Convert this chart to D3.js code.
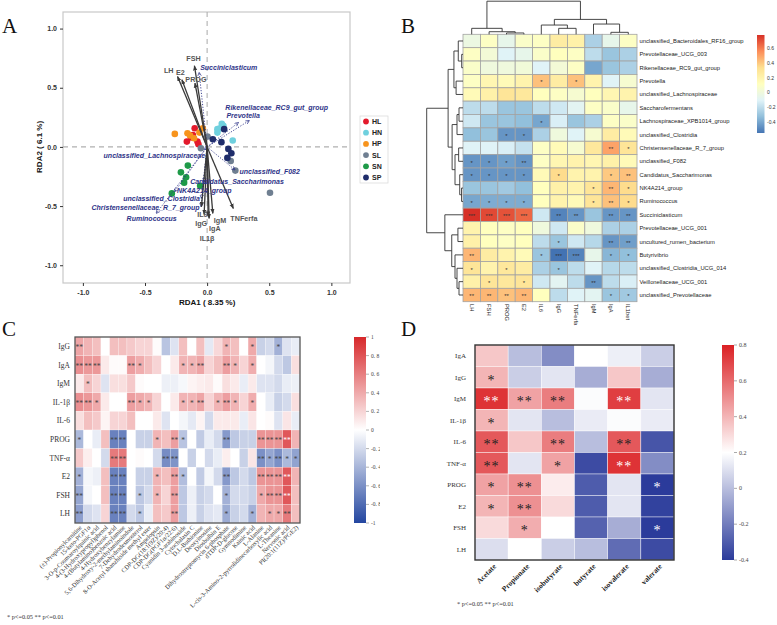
<!DOCTYPE html>
<html>
<head>
<meta charset="utf-8">
<script src="https://cdn.jsdelivr.net/npm/d3@7"></script>
<style>
  body { margin: 0; background: #fff; }
  svg { display: block; }
</style>
</head>
<body>
<div id="chart"></div>
<script>
// ---------------- data: panel A (RDA) ----------------
const groups = ["HL", "HN", "HP", "SL", "SN", "SP"];
const groupColors = ["#e31a2c", "#6fd0de", "#f7941d", "#6f7f91", "#1e9a48", "#1f2d6b"];
const ptsHL = [[-0.10, 0.158], [-0.115, 0.10], [-0.13, 0.08], [-0.163, 0.045], [-0.078, 0.045], [-0.07, 0.023]];
const ptsHN = [[0.118, 0.195], [0.083, 0.15], [0.104, 0.158], [0.131, 0.178], [0.083, 0.121], [0.206, 0.054]];
const ptsHP = [[-0.26, 0.11], [-0.158, 0.115], [-0.137, 0.096], [-0.105, 0.073], [-0.062, 0.121], [-0.035, 0.158]];
const ptsSL = [[0.003, 0.087], [-0.05, -0.011], [0.19, -0.119], [0.227, -0.2], [0.506, -0.387]];
const ptsSN = [[-0.155, -0.158], [-0.211, -0.215], [-0.169, -0.257], [-0.185, -0.302], [-0.056, -0.328], [-0.284, -0.393]];
const ptsSP = [[0.137, 0.15], [0.046, 0.065], [0.115, 0.04], [0.171, -0.017], [0.195, -0.054], [0.163, -0.093]];
const groupPoints = [ptsHL, ptsHN, ptsHP, ptsSL, ptsSN, ptsSP];

const envNames = ["FSH", "LH", "E2", "PROG", "TNFerfa", "IgM", "IgA", "IgG", "IL6", "IL1β"];
const envX = [-0.102, -0.238, -0.203, -0.098, 0.211, 0.046, 0.016, -0.024, -0.046, 0.008];
const envY = [0.686, 0.596, 0.568, 0.54, -0.52, -0.562, -0.604, -0.57, -0.506, -0.585];

const taxaNames = ["Succiniclasticum", "Rikenellaceae_RC9_gut_group", "Prevotella", "unclassified_Lachnospiraceae",
  "unclassified_F082", "Candidatus_Saccharimonas", "NK4A214_group", "unclassified_Clostridia",
  "Christensenellaceae_R_7_group", "Ruminococcus"];
const taxaX = [-0.064, 0.34, 0.252, -0.02, 0.225, -0.024, -0.262, -0.046, -0.048, -0.41];
const taxaY = [0.63, 0.223, 0.206, -0.02, -0.195, -0.294, -0.379, -0.435, -0.506, -0.562];

// ---------------- data: panel B (clustered heatmap) ----------------
const bCols = ["LH", "FSH", "PROG", "E2", "IL6", "IgG", "TNFerfa", "IgM", "IgA", "IL1bet"];
const bRows = ["unclassified_Bacteroidales_RF16_group", "Prevotellaceae_UCG_003", "Rikenellaceae_RC9_gut_group",
  "Prevotella", "unclassified_Lachnospiraceae", "Saccharofermentans", "Lachnospiraceae_XPB1014_group",
  "unclassified_Clostridia", "Christensenellaceae_R_7_group", "unclassified_F082", "Candidatus_Saccharimonas",
  "NK4A214_group", "Ruminococcus", "Succiniclasticum", "Prevotellaceae_UCG_001", "uncultured_rumen_bacterium",
  "Butyrivibrio", "unclassified_Clostridia_UCG_014", "Veillonellaceae_UCG_001", "unclassified_Prevotellaceae"];
const bValues = [
  [-0.02, 0.10, -0.05, 0.08, 0.10, 0.25, 0.22, -0.25, -0.05, 0.10],
  [0.10, 0.03, -0.10, -0.05, 0.08, 0.12, 0.10, -0.20, -0.30, -0.25],
  [0.08, 0.00, 0.00, 0.02, -0.10, 0.03, 0.10, -0.40, -0.30, -0.25],
  [0.10, 0.18, 0.15, 0.20, 0.42, 0.25, 0.42, 0.20, -0.10, 0.05],
  [0.15, 0.22, 0.30, 0.28, 0.12, 0.10, 0.05, 0.12, 0.18, 0.20],
  [-0.20, -0.20, -0.30, -0.30, -0.20, -0.15, -0.08, 0.10, 0.08, -0.05],
  [-0.15, -0.30, -0.30, -0.32, -0.40, -0.12, -0.30, -0.25, 0.10, 0.08],
  [-0.32, -0.30, -0.45, -0.45, -0.25, 0.00, -0.10, 0.05, 0.25, 0.15],
  [-0.10, -0.10, -0.12, -0.18, 0.10, 0.15, 0.05, 0.28, 0.50, 0.30],
  [-0.45, -0.45, -0.42, -0.45, 0.10, 0.18, 0.20, 0.18, 0.22, 0.15],
  [-0.45, -0.45, -0.45, -0.45, 0.15, 0.35, 0.20, 0.20, 0.40, 0.42],
  [-0.30, -0.30, -0.28, -0.32, 0.12, 0.22, 0.20, 0.30, 0.45, 0.35],
  [-0.40, -0.38, -0.38, -0.38, 0.12, 0.20, 0.15, 0.30, 0.42, 0.35],
  [0.78, 0.72, 0.70, 0.65, -0.15, -0.50, -0.45, -0.30, -0.45, -0.45],
  [0.20, 0.12, 0.10, 0.12, 0.00, -0.15, 0.08, 0.00, -0.25, -0.25],
  [0.22, 0.12, 0.10, 0.12, -0.20, -0.30, -0.15, -0.22, -0.45, -0.42],
  [0.45, 0.25, 0.20, 0.15, -0.30, -0.55, -0.50, -0.05, -0.35, -0.32],
  [0.30, 0.20, 0.28, 0.25, -0.25, -0.30, -0.20, -0.10, -0.22, -0.20],
  [0.22, 0.30, 0.28, 0.30, -0.15, -0.08, -0.20, -0.45, -0.20, -0.12],
  [0.45, 0.45, 0.42, 0.45, 0.12, -0.20, -0.10, -0.08, -0.30, -0.28]
];
const bStars = [
  ["", "", "", "", "", "", "", "", "", ""],
  ["", "", "", "", "", "", "", "", "", ""],
  ["", "", "", "", "", "", "", "", "", ""],
  ["", "", "", "", "*", "", "*", "", "", ""],
  ["", "", "", "", "", "", "", "", "", ""],
  ["", "", "", "", "", "", "", "", "", ""],
  ["", "", "", "", "*", "", "", "", "", ""],
  ["", "", "*", "*", "", "", "", "", "", ""],
  ["", "", "", "", "", "", "", "", "**", "*"],
  ["*", "*", "*", "**", "", "", "", "", "", ""],
  ["*", "*", "*", "*", "", "*", "", "", "*", "**"],
  ["", "", "", "", "", "", "", "*", "**", "*"],
  ["*", "*", "*", "*", "", "", "", "*", "**", "*"],
  ["***", "***", "***", "***", "", "**", "**", "", "**", "**"],
  ["", "", "", "", "", "", "", "", "", ""],
  ["", "", "", "", "", "*", "", "", "**", "**"],
  ["**", "", "", "", "*", "***", "***", "", "*", "*"],
  ["*", "", "*", "", "", "*", "", "", "", ""],
  ["", "*", "", "*", "", "", "", "**", "", ""],
  ["**", "**", "**", "**", "", "", "", "", "*", "*"]
];
// dendrograms: [merge height, left, right]; leaves are row / column indices
const bRowTree = [1.0,
  [0.41,
    [0.25, [0.13, 0, [0.036, 1, 2]], [0.19, 3, 4]],
    [0.30, [0.165, [0.11, 5, 6], 7], [0.22, [0.12, 8, 9], [0.09, 10, [0.04, 11, 12]]]]],
  [0.50, 13, [0.31, [0.14, 14, 15], [0.22, 16, [0.165, 17, [0.11, 18, 19]]]]]];
const bColTree = [1.0,
  [0.18, 0, [0.078, 1, [0.04, 2, 3]]],
  [0.45, [0.28, 4, [0.18, 5, 6]], [0.31, 7, [0.06, 8, 9]]]];
const bLegendTicks = [-0.4, -0.2, 0, 0.2, 0.4, 0.6];

// ---------------- data: panel C (metabolites) ----------------
const cRows = ["IgG", "IgA", "IgM", "IL-1β", "IL-6", "PROG", "TNF-α", "E2", "FSH", "LH"];
const cCols = ["(±)-Propionylcarnitine", "15-keto-PGF1α", "3-O-p-Coumaroylquinic acid", "4-(3-Hydroxypropyl)phenol",
  "4-(Butylamino)benzoic acid", "4-Hydroxybenzylamine", "5,6-Dihydroxy-2-methylaminoindole", "7-Dehydrodesmosterol",
  "8-O-Acetyl shanzhiside methyl ester", "Ampelopsin", "CDP-DG(18:1(9Z)/20:4)", "CDP-DG(PGF1α/22:6)",
  "Cyanidin 3-arabinoside", "Cytochalasin C", "D,L-Buthionine", "Deoxyinosine", "Diosbulbin E",
  "Dihydrostreptomycin 6-phosphate", "dTDP-D-glucose", "Gymnodimine", "Kainic acid", "L-Alanine",
  "L-cis-3-Amino-2-pyrrolidinecarboxylic acid", "L-Theanine", "Nervonic acid", "PI(20:1(11Z)/PGE2)"];
const cValues = [
  [0.42, 0.35, 0.30, 0.00, 0.30, 0.30, 0.25, 0.20, 0.20, 0.02, -0.32, -0.15, 0.30, 0.00, 0.30, -0.12, 0.18, 0.35, 0.30, 0.00, 0.40, -0.25, -0.20, -0.42, -0.15, -0.10],
  [0.52, 0.48, 0.48, 0.10, 0.02, 0.02, 0.45, 0.38, 0.30, 0.20, 0.00, 0.10, 0.35, 0.35, 0.42, 0.20, 0.30, 0.45, 0.35, 0.20, 0.38, 0.00, -0.05, -0.20, -0.30, 0.15],
  [0.10, 0.30, 0.20, -0.15, 0.15, 0.15, 0.25, 0.02, 0.00, 0.00, -0.08, -0.08, -0.04, 0.05, 0.08, 0.10, 0.02, 0.15, 0.10, -0.10, 0.10, -0.15, -0.15, -0.20, -0.10, -0.08],
  [0.52, 0.48, 0.40, 0.10, 0.00, 0.00, 0.45, 0.40, 0.35, 0.20, 0.00, 0.10, 0.35, 0.35, 0.42, 0.20, 0.35, 0.45, 0.35, 0.20, 0.38, 0.00, -0.10, -0.25, -0.20, 0.15],
  [0.15, 0.30, 0.25, 0.05, 0.20, 0.20, 0.30, 0.00, 0.00, 0.10, -0.15, 0.00, -0.05, -0.12, 0.05, -0.20, 0.10, 0.10, 0.10, -0.10, 0.12, 0.00, 0.02, -0.15, 0.12, -0.10],
  [-0.38, 0.00, -0.10, 0.30, -0.68, -0.68, 0.00, -0.25, -0.25, 0.35, 0.30, 0.45, -0.32, 0.00, -0.28, -0.10, -0.20, -0.55, -0.30, -0.25, -0.25, 0.50, 0.50, 0.50, 0.78, 0.35],
  [0.25, 0.08, 0.00, -0.20, 0.62, 0.62, 0.00, 0.02, 0.00, -0.20, -0.62, -0.58, 0.00, -0.25, 0.00, -0.20, -0.10, 0.08, 0.00, -0.25, 0.12, -0.60, -0.48, -0.60, -0.38, -0.50],
  [-0.42, -0.05, -0.08, 0.30, -0.68, -0.68, 0.00, -0.25, -0.25, 0.35, 0.30, 0.45, -0.35, 0.00, -0.28, -0.05, -0.20, -0.55, -0.30, -0.20, -0.30, 0.50, 0.50, 0.50, 0.78, 0.35],
  [-0.48, -0.05, 0.00, 0.30, -0.68, -0.68, 0.00, -0.30, -0.20, 0.35, 0.20, 0.45, -0.30, -0.08, -0.25, -0.20, 0.00, -0.42, -0.20, -0.20, -0.25, 0.40, 0.50, 0.50, 0.78, 0.30],
  [-0.52, -0.20, -0.15, 0.20, -0.68, -0.68, -0.20, -0.30, -0.10, 0.30, 0.25, 0.45, -0.30, -0.08, -0.25, -0.15, -0.12, -0.45, -0.25, -0.20, -0.42, 0.35, 0.40, 0.40, 0.62, 0.30]
];
const cStars = [
  ["**", "", "", "", "", "", "", "", "", "", "", "", "", "", "", "", "", "*", "", "", "*", "", "", "*", "", ""],
  ["**", "**", "**", "", "", "", "**", "*", "", "", "", "", "*", "*", "**", "", "", "**", "*", "", "*", "", "", "", "", ""],
  ["", "*", "", "", "", "", "", "", "", "", "", "", "", "", "", "", "", "", "", "", "", "", "", "", "", ""],
  ["**", "**", "*", "", "", "", "**", "*", "*", "", "", "", "*", "*", "**", "", "*", "**", "*", "", "*", "", "", "", "", ""],
  ["", "", "", "", "", "", "", "", "", "", "", "", "", "", "", "", "", "", "", "", "", "", "", "", "", ""],
  ["*", "", "", "", "**", "**", "", "", "", "*", "", "**", "*", "", "", "", "", "**", "", "", "", "**", "**", "**", "**", ""],
  ["", "", "", "", "**", "**", "", "", "", "", "**", "**", "", "", "", "", "", "", "", "", "", "**", "*", "**", "*", "*"],
  ["*", "", "", "", "**", "**", "", "", "", "*", "", "**", "*", "", "", "", "", "**", "", "", "", "**", "**", "**", "**", ""],
  ["**", "", "", "", "**", "**", "", "*", "", "*", "", "**", "", "", "", "", "", "*", "", "", "", "*", "**", "**", "**", ""],
  ["**", "", "", "", "**", "**", "", "*", "", "", "", "**", "", "", "", "", "", "*", "", "", "*", "", "*", "*", "**", ""]
];
const cLegendTicks = [1, 0.8, 0.6, 0.4, 0.2, 0, -0.2, -0.4, -0.6, -0.8, -1];

// ---------------- data: panel D (SCFA) ----------------
const dRows = ["IgA", "IgG", "IgM", "IL-1β", "IL-6", "TNF-α", "PROG", "E2", "FSH", "LH"];
const dCols = ["Acetate", "Propionate", "isobutyrate", "butyrate", "isovalerate", "valerate"];
const dValues = [
  [0.35, 0.00, -0.15, 0.20, 0.15, 0.05],
  [0.40, 0.05, 0.12, -0.05, 0.35, -0.05],
  [0.75, 0.45, 0.55, 0.19, 0.72, 0.12],
  [0.40, 0.12, 0.00, 0.14, 0.19, 0.14],
  [0.65, 0.35, 0.55, 0.00, 0.65, -0.32],
  [0.65, 0.12, 0.45, -0.35, 0.75, -0.15],
  [0.45, 0.50, 0.25, -0.30, 0.12, -0.40],
  [0.40, 0.50, 0.30, -0.30, 0.12, -0.38],
  [0.30, 0.42, 0.20, -0.28, -0.05, -0.40],
  [0.10, 0.20, 0.05, 0.00, -0.25, -0.35]
];
const dStars = [
  ["", "", "", "", "", ""],
  ["*", "", "", "", "", ""],
  ["**", "**", "**", "", "**", ""],
  ["*", "", "", "", "", ""],
  ["**", "", "**", "", "**", ""],
  ["**", "", "*", "", "**", ""],
  ["*", "**", "", "", "", "*"],
  ["*", "**", "", "", "", ""],
  ["", "*", "", "", "", "*"],
  ["", "", "", "", "", ""]
];
const dLegendTicks = [0.8, 0.6, 0.4, 0.2, 0, -0.2, -0.4];

// ---------------- drawing ----------------
const width = 777;
const height = 625;
const serif = "'Liberation Serif', 'Times New Roman', serif";
const sans = "'Liberation Sans', Arial, sans-serif";

const svg = d3.select('#chart')
  .append('svg')
  .attr('width', width)
  .attr('height', height)
  .style('font-family', sans);

const defs = svg.append('defs');

// panel letters
[["A", 2, 33], ["B", 401, 33], ["C", 2, 336], ["D", 401, 336]].forEach(([t, x, y]) => {
  svg.append('text').attr('x', x).attr('y', y).text(t)
    .style('font-family', serif).style('font-size', '21px').attr('fill', '#111');
});

// ======== Panel A ========
const xA = d3.scaleLinear().domain([-1.16, 1.15]).range([63, 350]);
const yA = d3.scaleLinear().domain([1.14, -1.15]).range([12, 283]);
const gA = svg.append('g');

gA.append('rect')
  .attr('x', xA.range()[0]).attr('y', yA.range()[0])
  .attr('width', xA.range()[1] - xA.range()[0]).attr('height', yA.range()[1] - yA.range()[0])
  .attr('fill', 'none').attr('stroke', '#c8c8c8').attr('stroke-width', 1.2);

gA.append('line')
  .attr('x1', xA(0)).attr('x2', xA(0)).attr('y1', yA.range()[0]).attr('y2', yA.range()[1])
  .attr('stroke', '#b0b0b0').attr('stroke-dasharray', '5,4').attr('stroke-width', 1.1);
gA.append('line')
  .attr('y1', yA(0)).attr('y2', yA(0)).attr('x1', xA.range()[0]).attr('x2', xA.range()[1])
  .attr('stroke', '#b0b0b0').attr('stroke-dasharray', '5,4').attr('stroke-width', 1.1);

const fmtA = d => d.toFixed(1);
const xAxisA = d3.axisBottom(xA).tickValues([-1, -0.5, 0, 0.5, 1]).tickFormat(fmtA).tickSize(3);
const yAxisA = d3.axisLeft(yA).tickValues([-1, -0.5, 0, 0.5, 1]).tickFormat(fmtA).tickSize(3);
const axA1 = gA.append('g').attr('transform', `translate(0, ${yA.range()[1]})`).call(xAxisA);
const axA2 = gA.append('g').attr('transform', `translate(${xA.range()[0]}, 0)`).call(yAxisA);
[axA1, axA2].forEach(ax => {
  ax.select('.domain').remove();
  ax.selectAll('line').attr('stroke', '#333');
  ax.selectAll('text').attr('fill', '#333').style('font-size', '7px').style('font-weight', 'bold')
    .style('font-family', sans);
});
axA1.selectAll('text').attr('dy', '0.8em');

gA.append('text').attr('x', xA(0)).attr('y', 304.5).attr('text-anchor', 'middle')
  .style('font-size', '8px').style('font-weight', 'bold').attr('fill', '#111').text('RDA1 ( 8.35 %)');
gA.append('text').attr('transform', `translate(42, ${yA(0)}) rotate(-90)`).attr('text-anchor', 'middle')
  .style('font-size', '8px').style('font-weight', 'bold').attr('fill', '#111').text('RDA2 ( 6.1 %)');

// arrow markers
defs.append('marker').attr('id', 'arrEnv').attr('viewBox', '0 0 10 10')
  .attr('refX', 9).attr('refY', 5).attr('markerWidth', 4).attr('markerHeight', 4).attr('orient', 'auto')
  .append('path').attr('d', 'M0,1L10,5L0,9Z').attr('fill', '#3a3a3a');
defs.append('marker').attr('id', 'arrTaxa').attr('viewBox', '0 0 10 10')
  .attr('refX', 9).attr('refY', 5).attr('markerWidth', 5).attr('markerHeight', 5).attr('orient', 'auto')
  .append('path').attr('d', 'M1,1L9,5L1,9').attr('fill', 'none').attr('stroke', '#2e3388').attr('stroke-width', 1.5);

// sample points
groups.forEach((g, i) => {
  gA.append('g').selectAll('circle').data(groupPoints[i]).join('circle')
    .attr('cx', d => xA(d[0])).attr('cy', d => yA(d[1])).attr('r', 3.3)
    .attr('fill', groupColors[i]);
});

// taxa arrows (dotted)
gA.append('g').selectAll('line').data(taxaNames).join('line')
  .attr('x1', xA(0)).attr('y1', yA(0))
  .attr('x2', (d, i) => xA(taxaX[i])).attr('y2', (d, i) => yA(taxaY[i]))
  .attr('stroke', '#2e3388').attr('stroke-width', 0.9).attr('stroke-dasharray', '1.2,1.6')
  .attr('marker-end', 'url(#arrTaxa)');

// environment arrows (solid)
gA.append('g').selectAll('line').data(envNames).join('line')
  .attr('x1', xA(0)).attr('y1', yA(0))
  .attr('x2', (d, i) => xA(envX[i])).attr('y2', (d, i) => yA(envY[i]))
  .attr('stroke', '#3a3a3a').attr('stroke-width', 1.3)
  .attr('marker-end', 'url(#arrEnv)');

// label placement (pixel nudges from arrow tips)
const envNudge = {
  "FSH": [-1, -5, 'middle'], "LH": [-4, -3, 'end'], "E2": [-6, -5, 'start'], "PROG": [1, -1, 'middle'],
  "TNFerfa": [-3, 13, 'start'], "IgM": [1, 10, 'start'], "IgA": [0, 13, 'start'],
  "IgG": [-3, 12, 'middle'], "IL6": [1, 10, 'middle'], "IL1β": [-1, 24.5, 'middle']
};
gA.append('g').selectAll('text').data(envNames).join('text')
  .attr('x', (d, i) => xA(envX[i]) + envNudge[d][0])
  .attr('y', (d, i) => yA(envY[i]) + envNudge[d][1])
  .attr('text-anchor', d => envNudge[d][2])
  .style('font-size', '7.2px').style('font-weight', 'bold').attr('fill', '#555')
  .text(d => d);

const taxaNudge = {
  "Succiniclasticum": [1, -2, 'start'], "Rikenellaceae_RC9_gut_group": [-24, -10.5, 'start'],
  "Prevotella": [-12, -4.5, 'start'], "unclassified_Lachnospiraceae": [0.5, 9, 'end'],
  "unclassified_F082": [4.5, 4.5, 'start'], "Candidatus_Saccharimonas": [-14, 2, 'start'],
  "NK4A214_group": [2.5, 1, 'start'], "unclassified_Clostridia": [-1.5, 2.8, 'end'],
  "Christensenellaceae_R_7_group": [-1.5, 3.2, 'end'], "Ruminococcus": [-4.5, 8, 'middle']
};
gA.append('g').selectAll('text').data(taxaNames).join('text')
  .attr('x', (d, i) => xA(taxaX[i]) + taxaNudge[d][0])
  .attr('y', (d, i) => yA(taxaY[i]) + taxaNudge[d][1])
  .attr('text-anchor', d => taxaNudge[d][2])
  .style('font-size', '7px').style('font-weight', 'bold').style('font-style', 'italic')
  .attr('fill', '#2e3388')
  .text(d => d);

// legend A
const legA = gA.append('g');
const legY = d3.scalePoint().domain(groups).range([121.5, 177.5]);
legA.append('rect').attr('x', 360).attr('y', 116).attr('width', 28).attr('height', 67)
  .attr('fill', '#fff').attr('stroke', '#dcdcdc').attr('stroke-width', 0.8);
legA.selectAll('circle').data(groups).join('circle')
  .attr('cx', 366).attr('cy', d => legY(d)).attr('r', 2.9)
  .attr('fill', (d, i) => groupColors[i]);
legA.selectAll('text').data(groups).join('text')
  .attr('x', 372).attr('y', d => legY(d)).attr('dy', '0.35em')
  .style('font-size', '7px').style('font-weight', 'bold').attr('fill', '#222').text(d => d);

// ======== Panel B ========
const gB = svg.append('g');
const xB = d3.scaleBand().domain(bCols).range([463, 637]);
const yB = d3.scaleBand().domain(bRows).range([34.3, 301.7]);
const bMin = -0.545, bMax = 0.78;
const bPalette = ["#4575B4", "#91BFDB", "#E0F3F8", "#FFFFBF", "#FEE090", "#FC8D59", "#D73027"];
const colorB = d3.scaleLinear()
  .domain(bPalette.map((c, i) => bMin + i * (bMax - bMin) / (bPalette.length - 1)))
  .range(bPalette);

const bCells = bRows.flatMap((r, i) => bCols.map((c, j) => ({ r, c, v: bValues[i][j], s: bStars[i][j] })));
gB.append('g').selectAll('rect').data(bCells).join('rect')
  .attr('x', d => xB(d.c)).attr('y', d => yB(d.r))
  .attr('width', xB.bandwidth()).attr('height', yB.bandwidth())
  .attr('fill', d => colorB(d.v)).attr('stroke', '#a3a3a3').attr('stroke-width', 0.8);
gB.append('g').selectAll('text').data(bCells.filter(d => d.s)).join('text')
  .attr('x', d => xB(d.c) + xB.bandwidth() / 2).attr('y', d => yB(d.r) + yB.bandwidth() / 2)
  .attr('dy', '0.55em').attr('text-anchor', 'middle')
  .style('font-size', '6px').attr('fill', '#333').text(d => d.s);

gB.append('g').selectAll('text').data(bRows).join('text')
  .attr('x', 639.5).attr('y', d => yB(d) + yB.bandwidth() / 2).attr('dy', '0.35em')
  .style('font-size', '5.8px').attr('fill', '#222').text(d => d);
gB.append('g').selectAll('text').data(bCols).join('text')
  .attr('transform', d => `translate(${xB(d) + xB.bandwidth() / 2 - 2}, 304) rotate(90)`)
  .style('font-size', '5.8px').attr('fill', '#222').text(d => d);

// dendrograms
function layoutTree(node, leafPos) {
  if (typeof node === 'number') return { pos: leafPos(node), h: 0 };
  const a = layoutTree(node[1], leafPos);
  const b = layoutTree(node[2], leafPos);
  return { pos: (a.pos + b.pos) / 2, h: node[0], kids: [a, b] };
}
function elbows(n, out) {
  if (!n.kids) return out;
  const [a, b] = n.kids;
  out.push({ p1: a.pos, h1: a.h, p2: b.pos, h2: b.h, h: n.h });
  elbows(a, out); elbows(b, out);
  return out;
}
const rowTree = layoutTree(bRowTree, i => yB(bRows[i]) + yB.bandwidth() / 2);
const colTree = layoutTree(bColTree, j => xB(bCols[j]) + xB.bandwidth() / 2);
const hRow = d3.scaleLinear().domain([0, 1]).range([463, 426.7]);
const hCol = d3.scaleLinear().domain([0, 1]).range([34.3, 1.2]);
gB.append('g').selectAll('path').data(elbows(rowTree, [])).join('path')
  .attr('d', e => `M${hRow(e.h1)},${e.p1}H${hRow(e.h)}V${e.p2}H${hRow(e.h2)}`)
  .attr('fill', 'none').attr('stroke', '#333').attr('stroke-width', 0.9);
gB.append('g').selectAll('path').data(elbows(colTree, [])).join('path')
  .attr('d', e => `M${e.p1},${hCol(e.h1)}V${hCol(e.h)}H${e.p2}V${hCol(e.h2)}`)
  .attr('fill', 'none').attr('stroke', '#333').attr('stroke-width', 0.9);

// legend B
const yLegB = d3.scaleLinear().domain([bMin, bMax]).range([133, 35]);
const gradB = defs.append('linearGradient').attr('id', 'gradB').attr('x1', 0).attr('x2', 0).attr('y1', 1).attr('y2', 0);
bPalette.forEach((c, i) => gradB.append('stop').attr('offset', i / (bPalette.length - 1)).attr('stop-color', c));
gB.append('rect').attr('x', 757).attr('y', 35).attr('width', 7.5).attr('height', 98).attr('fill', 'url(#gradB)');
gB.append('g').selectAll('text').data(bLegendTicks).join('text')
  .attr('x', 767).attr('y', d => yLegB(d)).attr('dy', '0.35em')
  .style('font-size', '5px').attr('fill', '#333').text(d => d === 0 ? '0' : d3.format('.1f')(d).replace('−', '-'));

// ======== Panel C ========
const clipC = defs.append('clipPath').attr('id', 'clipC');
clipC.append('rect').attr('x', 0).attr('y', 300).attr('width', 380).attr('height', 325);
const gC = svg.append('g').attr('clip-path', 'url(#clipC)').style('font-family', serif);
const xC = d3.scaleBand().domain(cCols).range([75, 300]);
const yC = d3.scaleBand().domain(cRows).range([337, 523]);
const colorC = d3.scaleLinear().domain([-1, 0, 1]).range(["#2346a0", "#ffffff", "#d7282b"]);
const cCells = cRows.flatMap((r, i) => cCols.map((c, j) => ({ r, c, v: cValues[i][j], s: cStars[i][j] })));
gC.append('g').selectAll('rect').data(cCells).join('rect')
  .attr('x', d => xC(d.c)).attr('y', d => yC(d.r))
  .attr('width', xC.bandwidth()).attr('height', yC.bandwidth())
  .attr('fill', d => colorC(d.v)).attr('stroke', 'rgba(255,255,255,0.6)').attr('stroke-width', 0.4);
gC.append('g').selectAll('text').data(cCells.filter(d => d.s)).join('text')
  .attr('x', d => xC(d.c) + xC.bandwidth() / 2).attr('y', d => yC(d.r) + yC.bandwidth() / 2)
  .attr('dy', '0.5em').attr('text-anchor', 'middle')
  .style('font-size', '7.5px').attr('fill', d => d.v > 0.7 ? '#fff' : '#444').text(d => d.s);
gC.append('rect').attr('x', 75).attr('y', 337).attr('width', 225).attr('height', 186)
  .attr('fill', 'none').attr('stroke', '#555').attr('stroke-width', 1.3);
gC.append('g').selectAll('text').data(cRows).join('text')
  .attr('x', 70).attr('y', d => yC(d) + yC.bandwidth() / 2).attr('dy', '0.35em')
  .attr('text-anchor', 'end').style('font-size', '7.5px').attr('fill', '#333').text(d => d);
gC.append('g').selectAll('text').data(cCols).join('text')
  .attr('transform', d => `translate(${xC(d) + xC.bandwidth() / 2 + 3}, 528) rotate(-45)`)
  .attr('text-anchor', 'end').style('font-size', '6.4px').attr('fill', '#333').text(d => d);

// legend C
const yLegC = d3.scaleLinear().domain([-1, 1]).range([523, 337]);
const gradC = defs.append('linearGradient').attr('id', 'gradC').attr('x1', 0).attr('x2', 0).attr('y1', 1).attr('y2', 0);
[[0, "#2346a0"], [0.5, "#ffffff"], [1, "#d7282b"]].forEach(([o, c]) => gradC.append('stop').attr('offset', o).attr('stop-color', c));
gC.append('rect').attr('x', 354).attr('y', 337).attr('width', 12).attr('height', 186).attr('fill', 'url(#gradC)');
gC.append('g').selectAll('line').data(cLegendTicks).join('line')
  .attr('x1', 366).attr('x2', 369).attr('y1', d => yLegC(d)).attr('y2', d => yLegC(d))
  .attr('stroke', '#666').attr('stroke-width', 0.5);
gC.append('g').selectAll('text').data(cLegendTicks).join('text')
  .attr('x', 371).attr('y', d => yLegC(d)).attr('dy', '0.35em')
  .style('font-size', '5.5px').attr('fill', '#444')
  .text(d => d === 0 ? '0' : (Math.abs(d) === 1 ? String(d) : d3.format('.1f')(d).replace('−', '-').replace('.', '. ')));
gC.append('text').attr('x', 7).attr('y', 619).style('font-size', '6.3px').attr('fill', '#333')
  .text('* p<=0.05  ** p<=0.01');

// ======== Panel D ========
const gD = svg.append('g').style('font-family', serif);
const xD = d3.scaleBand().domain(dCols).range([475, 674]);
const yD = d3.scaleBand().domain(dRows).range([345, 560]);
const colorD = d3.scaleLinear().domain([-0.4, 0.2, 0.8]).range(["#2b3b9b", "#ffffff", "#db2024"]);
const dCells = dRows.flatMap((r, i) => dCols.map((c, j) => ({ r, c, v: dValues[i][j], s: dStars[i][j] })));
gD.append('g').selectAll('rect').data(dCells).join('rect')
  .attr('x', d => xD(d.c)).attr('y', d => yD(d.r))
  .attr('width', xD.bandwidth()).attr('height', yD.bandwidth())
  .attr('fill', d => colorD(d.v)).attr('stroke', 'rgba(255,255,255,0.7)').attr('stroke-width', 0.6);
gD.append('g').selectAll('text').data(dCells.filter(d => d.s)).join('text')
  .attr('x', d => xD(d.c) + xD.bandwidth() / 2).attr('y', d => yD(d.r) + yD.bandwidth() / 2)
  .attr('dy', '0.55em').attr('text-anchor', 'middle').style('letter-spacing', '1px')
  .style('font-size', '14px').attr('fill', d => (d.v > 0.7 || d.v < -0.38) ? '#fff' : '#222').text(d => d.s);
gD.append('rect').attr('x', 475).attr('y', 345).attr('width', 199).attr('height', 215)
  .attr('fill', 'none').attr('stroke', '#333').attr('stroke-width', 1.4);
gD.append('g').selectAll('text').data(dRows).join('text')
  .attr('x', 466).attr('y', d => yD(d) + yD.bandwidth() / 2).attr('dy', '0.35em')
  .attr('text-anchor', 'end').style('font-size', '7px').attr('fill', '#333').text(d => d);
gD.append('g').selectAll('text').data(dCols).join('text')
  .attr('transform', d => `translate(${xD(d) + xD.bandwidth() / 2 + 5}, 567) rotate(-45)`)
  .attr('text-anchor', 'end').style('font-size', '7.5px').style('font-weight', 'bold').attr('fill', '#222').text(d => d);

// legend D
const yLegD = d3.scaleLinear().domain([-0.4, 0.8]).range([560, 345]);
const gradD = defs.append('linearGradient').attr('id', 'gradD').attr('x1', 0).attr('x2', 0).attr('y1', 1).attr('y2', 0);
[[0, "#2b3b9b"], [0.5, "#ffffff"], [1, "#db2024"]].forEach(([o, c]) => gradD.append('stop').attr('offset', o).attr('stop-color', c));
gD.append('rect').attr('x', 722).attr('y', 345).attr('width', 12).attr('height', 215).attr('fill', 'url(#gradD)');
gD.append('g').selectAll('line').data(dLegendTicks).join('line')
  .attr('x1', 734).attr('x2', 737).attr('y1', d => yLegD(d)).attr('y2', d => yLegD(d))
  .attr('stroke', '#555').attr('stroke-width', 0.5);
gD.append('g').selectAll('text').data(dLegendTicks).join('text')
  .attr('x', 739).attr('y', d => yLegD(d)).attr('dy', '0.35em')
  .style('font-size', '6px').attr('fill', '#444')
  .text(d => d === 0 ? '0' : d3.format('.1f')(d).replace('−', '-'));
gD.append('text').attr('x', 457).attr('y', 606).style('font-size', '6.3px').attr('fill', '#333')
  .text('* p<=0.05  ** p<=0.01');
</script>
</body>
</html>
